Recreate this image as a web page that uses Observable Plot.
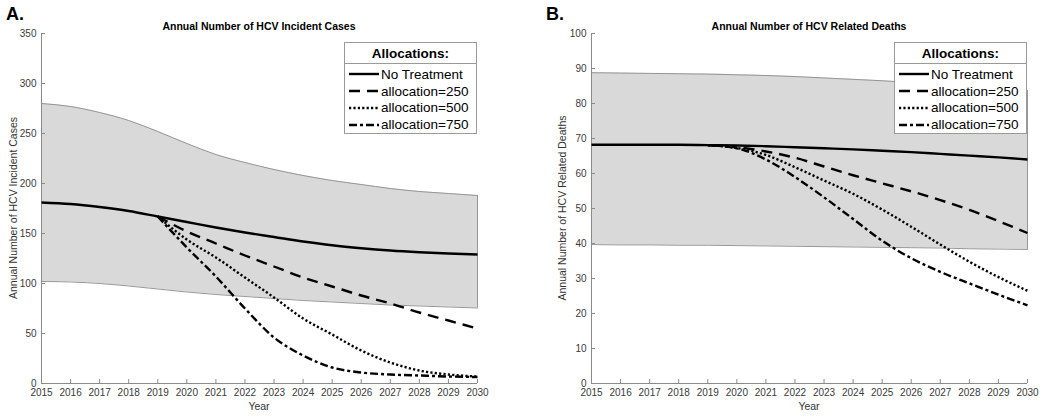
<!DOCTYPE html>
<html>
<head>
<meta charset="utf-8">
<script src="https://cdn.jsdelivr.net/npm/d3@7"></script>
<script src="https://cdn.jsdelivr.net/npm/@observablehq/plot@0.6"></script>
<style>
  html, body { margin: 0; padding: 0; background: #fff; }
  #root { position: relative; width: 1050px; height: 417px; font-family: "Liberation Sans", Arial, Helvetica, sans-serif; overflow: hidden; }
  .panel { position: absolute; top: 0; }
  .lbl { position: absolute; white-space: nowrap; color: #000; }
  .plabel { font-weight: bold; font-size: 18px; }
  .title { font-weight: bold; font-size: 10.5px; transform: translate(-50%, -50%); }
  .xlab { font-size: 10.5px; color: #333; transform: translate(-50%, -50%); }
  .ylab { font-size: 10.5px; color: #333; transform: translate(-50%, -50%) rotate(-90deg); }
  .legend { position: absolute; background: #fff; border: 1px solid #9a9a9a; box-sizing: border-box; }
  .legend .hd { font-weight: bold; font-size: 13.5px; text-align: center; height: 20px; line-height: 21px; border-bottom: 1px solid #9a9a9a; }
  .legend .row { display: flex; align-items: center; height: 16.8px; font-size: 13.5px; padding-left: 3px; }
  .legend .row svg { margin-right: 2px; }
</style>
</head>
<body>
<div id="root"></div>
<script>
// ---------- data ----------
const years = [2015, 2016, 2017, 2018, 2019, 2020, 2021, 2022, 2023, 2024, 2025, 2026, 2027, 2028, 2029, 2030];
const allocYears = [2019, 2020, 2021, 2022, 2023, 2024, 2025, 2026, 2027, 2028, 2029, 2030];

// Panel A: incident cases
const casesUpper = [280, 277, 271, 263, 252, 240, 229, 221, 214, 208, 203, 199, 195, 192, 190, 188];
const casesLower = [102, 101.5, 100, 97.5, 94.5, 91.5, 89, 87, 85, 83, 81.5, 80, 78.5, 77.5, 76.5, 75.5];
const casesNoTreatment = [181, 179.5, 176.5, 172.5, 167, 161.5, 156, 151, 146.5, 142, 138.2, 135.3, 133, 131.3, 130, 129];
const casesAlloc250 = [167, 152, 140, 128, 117, 106, 97, 88, 80, 71, 63, 55];
const casesAlloc500 = [167, 144, 126, 106, 86, 65, 49, 33, 21, 13, 9, 7];
const casesAlloc750 = [167, 136, 107, 75, 46, 28, 16, 11, 9, 8, 7, 6.5];
const casesYTicks = [0, 50, 100, 150, 200, 250, 300, 350];

// Panel B: related deaths
const deathsUpper = [88.8, 88.7, 88.6, 88.5, 88.4, 88.2, 88.0, 87.7, 87.3, 86.9, 86.5, 86.0, 85.5, 85.0, 84.4, 83.7];
const deathsLower = [39.7, 39.6, 39.6, 39.5, 39.5, 39.4, 39.3, 39.2, 39.1, 39.0, 38.9, 38.8, 38.7, 38.5, 38.4, 38.3];
const deathsNoTreatment = [68.2, 68.2, 68.2, 68.2, 68.1, 68.0, 67.8, 67.5, 67.2, 66.9, 66.5, 66.1, 65.6, 65.1, 64.6, 64.0];
const deathsAlloc250 = [68.1, 67.5, 66.3, 64.5, 62.0, 59.5, 57.2, 54.9, 52.4, 49.6, 46.4, 43.0];
const deathsAlloc500 = [68.1, 67.3, 65.3, 61.8, 58.0, 54.2, 49.7, 44.8, 39.7, 34.8, 30.4, 26.5];
const deathsAlloc750 = [68.1, 67.2, 64.0, 59.0, 53.2, 47.0, 40.8, 35.8, 31.9, 28.6, 25.4, 22.3];
const deathsYTicks = [0, 10, 20, 30, 40, 50, 60, 70, 80, 90, 100];

const seriesNames = ["No Treatment", "allocation=250", "allocation=500", "allocation=750"];
const dashes = {"No Treatment": null, "allocation=250": "11,7", "allocation=500": "2.2,2.2", "allocation=750": "8,3,3,3"};

// ---------- drawing ----------
const root = document.getElementById("root");
const FONT = "'Liberation Sans', Arial, Helvetica, sans-serif";

function panel({left, marginLeft, marginRight, upper, lower, noTreat, a250, a500, a750, yMax, yTicks, title, ylabel, letter}) {
  const width = 525, height = 417, marginTop = 33, marginBottom = 34;
  const band = years.map((y, i) => ({year: y, hi: upper[i], lo: lower[i]}));
  const lines = [];
  years.forEach((y, i) => lines.push({s: seriesNames[0], year: y, v: noTreat[i]}));
  [a250, a500, a750].forEach((arr, k) => allocYears.forEach((y, i) => lines.push({s: seriesNames[k + 1], year: y, v: arr[i]})));
  const plotW = width - marginLeft - marginRight;
  const plotH = height - marginTop - marginBottom;
  const tickLenY = 4 * yMax / plotH;
  const tickLenX = 4 * 15 / plotW;
  const axisColor = "#8a8a8a";

  const marks = [
    Plot.areaY(band, {x: "year", y1: "lo", y2: "hi", fill: "#d9d9d9", curve: "monotone-x"}),
    Plot.line(band, {x: "year", y: "hi", stroke: "#8c8c8c", strokeWidth: 0.9, curve: "monotone-x"}),
    Plot.line(band, {x: "year", y: "lo", stroke: "#8c8c8c", strokeWidth: 0.9, curve: "monotone-x"}),
    Plot.ruleX(band.filter(d => d.year === 2030), {x: "year", y1: "lo", y2: "hi", stroke: "#8c8c8c", strokeWidth: 0.9}),
    // axis lines and inward ticks
    Plot.ruleX([2015], {stroke: axisColor, strokeWidth: 1}),
    Plot.ruleY([0], {stroke: axisColor, strokeWidth: 1}),
    Plot.ruleX(years, {x: d => d, y1: 0, y2: tickLenY, stroke: axisColor, strokeWidth: 1}),
    Plot.ruleY(yTicks, {y: d => d, x1: 2015, x2: 2015 + tickLenX, stroke: axisColor, strokeWidth: 1}),
    Plot.axisX({ticks: years, tickFormat: d => String(d), tickSize: 0, tickPadding: 5, label: null, fontSize: 10, fill: "#3a3a3a"}),
    Plot.axisY({ticks: yTicks, tickFormat: d => String(d), tickSize: 0, tickPadding: 5, label: null, fontSize: 10, fill: "#3a3a3a"})
  ];
  seriesNames.slice().reverse().forEach(name => {
    marks.push(Plot.line(lines.filter(d => d.s === name), {
      x: "year", y: "v", stroke: "#000", strokeWidth: 2.4,
      strokeDasharray: dashes[name], curve: "monotone-x", strokeLinecap: "butt"
    }));
  });

  const svg = Plot.plot({
    width, height, marginTop, marginBottom, marginLeft, marginRight,
    x: {domain: [2015, 2030], axis: null},
    y: {domain: [0, yMax], axis: null},
    style: {fontFamily: FONT, fontSize: "10px", background: "transparent", color: "#3a3a3a", overflow: "visible"},
    marks
  });
  svg.classList.add("panel");
  svg.style.left = left + "px";
  root.appendChild(svg);

  const x0 = left + marginLeft, x1 = left + width - marginRight;
  const cx = (x0 + x1) / 2;
  const add = (cls, text, x, y) => {
    const d = document.createElement("div");
    d.className = "lbl " + cls;
    d.textContent = text;
    d.style.left = x + "px";
    d.style.top = y + "px";
    root.appendChild(d);
    return d;
  };
  add("plabel", letter, left + (letter === "A." ? 6 : 21), 4);
  add("title", title, cx, 26);
  add("xlab", "Year", cx, 406);
  add("ylab", ylabel, left + (letter === "A." ? 13 : 37), marginTop + plotH / 2);

  // legend
  const lg = document.createElement("div");
  lg.className = "legend";
  lg.style.left = (x1 - 133) + "px";
  lg.style.top = "42px";
  lg.style.width = "133px";
  lg.style.height = "92px";
  const hd = document.createElement("div");
  hd.className = "hd";
  hd.textContent = "Allocations:";
  lg.appendChild(hd);
  const body = document.createElement("div");
  body.style.paddingTop = "2px";
  seriesNames.forEach(name => {
    const r = document.createElement("div");
    r.className = "row";
    const ns = "http://www.w3.org/2000/svg";
    const s = document.createElementNS(ns, "svg");
    s.setAttribute("width", "31");
    s.setAttribute("height", "8");
    const l = document.createElementNS(ns, "line");
    l.setAttribute("x1", "1"); l.setAttribute("x2", "31");
    l.setAttribute("y1", "4"); l.setAttribute("y2", "4");
    l.setAttribute("stroke", "#000");
    l.setAttribute("stroke-width", "2.4");
    if (dashes[name]) l.setAttribute("stroke-dasharray", dashes[name]);
    s.appendChild(l);
    r.appendChild(s);
    const t = document.createElement("span");
    t.textContent = name;
    r.appendChild(t);
    body.appendChild(r);
  });
  lg.appendChild(body);
  root.appendChild(lg);
}

panel({left: 0, marginLeft: 41, marginRight: 48, upper: casesUpper, lower: casesLower, noTreat: casesNoTreatment,
  a250: casesAlloc250, a500: casesAlloc500, a750: casesAlloc750, yMax: 350, yTicks: casesYTicks,
  title: "Annual Number of HCV Incident Cases", ylabel: "Annual Number of HCV Incident Cases", letter: "A."});
panel({left: 525, marginLeft: 66, marginRight: 23, upper: deathsUpper, lower: deathsLower, noTreat: deathsNoTreatment,
  a250: deathsAlloc250, a500: deathsAlloc500, a750: deathsAlloc750, yMax: 100, yTicks: deathsYTicks,
  title: "Annual Number of HCV Related Deaths", ylabel: "Annual Number of HCV Related Deaths", letter: "B."});
</script>
</body>
</html>
